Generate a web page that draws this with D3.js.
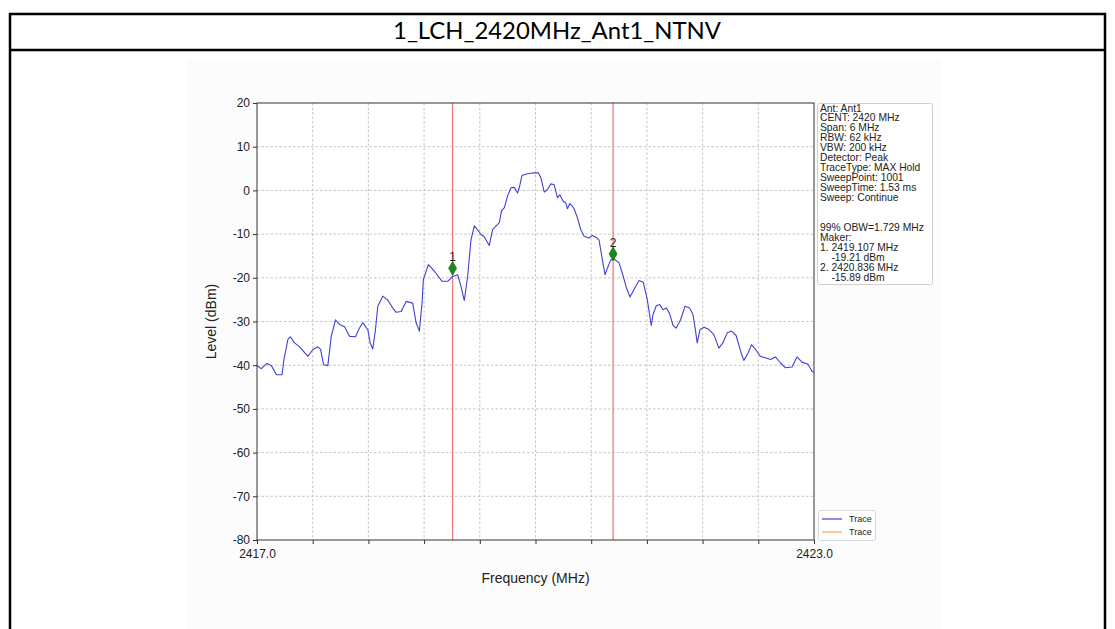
<!DOCTYPE html>
<html>
<head>
<meta charset="utf-8">
<script src="https://cdn.jsdelivr.net/npm/d3@7"></script>
<style>
    body { margin: 0; background: #fff; }
    svg { display: block; font-family: "Liberation Sans", Arial, sans-serif; }
</style>
</head>
<body>
<svg id="chart" width="1115" height="629"></svg>
<script>
    // title of the table cell
    var title = "1_LCH_2420MHz_Ant1_NTNV";

    // trace (MHz, dBm)
    var freq = [2417.000, 2417.047, 2417.108, 2417.155, 2417.209, 2417.269, 2417.290, 2417.333, 2417.359, 2417.405,
        2417.459, 2417.548, 2417.602, 2417.656, 2417.685, 2417.717, 2417.763, 2417.800, 2417.846, 2417.889,
        2417.943, 2417.997, 2418.061, 2418.104, 2418.140, 2418.194, 2418.219, 2418.247, 2418.276, 2418.301,
        2418.355, 2418.409, 2418.462, 2418.499, 2418.553, 2418.606, 2418.677, 2418.714, 2418.749, 2418.778,
        2418.792, 2418.846, 2418.911, 2418.994, 2419.054, 2419.108, 2419.161, 2419.198, 2419.233, 2419.269,
        2419.305, 2419.341, 2419.376, 2419.413, 2419.448, 2419.502, 2419.538, 2419.574, 2419.610, 2419.634,
        2419.663, 2419.699, 2419.735, 2419.771, 2419.806, 2419.825, 2419.854, 2419.914, 2419.968, 2420.032,
        2420.058, 2420.094, 2420.129, 2420.166, 2420.201, 2420.237, 2420.262, 2420.298, 2420.327, 2420.344,
        2420.370, 2420.391, 2420.416, 2420.452, 2420.488, 2420.524, 2420.577, 2420.613, 2420.649, 2420.685,
        2420.720, 2420.749, 2420.774, 2420.811, 2420.846, 2420.900, 2420.935, 2420.981, 2421.018, 2421.061,
        2421.115, 2421.161, 2421.204, 2421.247, 2421.266, 2421.301, 2421.338, 2421.373, 2421.409, 2421.445,
        2421.481, 2421.516, 2421.563, 2421.610, 2421.660, 2421.696, 2421.717, 2421.742, 2421.771, 2421.814,
        2421.860, 2421.922, 2421.975, 2422.018, 2422.065, 2422.112, 2422.161, 2422.209, 2422.244, 2422.290,
        2422.327, 2422.370, 2422.424, 2422.477, 2422.531, 2422.585, 2422.639, 2422.692, 2422.763, 2422.817,
        2422.871, 2422.935, 2422.978, 2423.000];
    var level = [-40.1, -40.8, -39.6, -40.1, -42.2, -42.2, -38.7, -34.1, -33.5, -34.9,
        -35.8, -38.0, -36.4, -35.8, -36.4, -39.9, -40.1, -33.4, -29.6, -30.7,
        -31.2, -33.4, -33.5, -31.5, -30.3, -31.9, -34.9, -36.3, -31.9, -26.5,
        -24.2, -25.1, -26.9, -27.9, -27.7, -25.4, -25.8, -30.3, -32.2, -25.8,
        -20.4, -17.0, -18.5, -20.8, -20.8, -19.7, -19.3, -22.0, -25.2, -19.7,
        -11.3, -8.1, -9.0, -10.1, -10.6, -12.6, -9.0, -8.2, -7.4, -4.7,
        -4.0, -1.3, 0.6, 0.7, -0.6, 0.6, 3.4, 3.8, 4.0, 4.0,
        2.9, -0.4, 0.2, 1.5, 1.3, -1.7, -1.0, -2.5, -2.9, -4.2,
        -3.0, -3.5, -4.2, -6.3, -9.0, -10.5, -10.9, -10.3, -10.7, -11.4,
        -15.8, -19.3, -17.8, -15.9, -15.7, -16.6, -18.9, -22.4, -24.4, -22.7,
        -20.6, -21.0, -25.0, -30.9, -28.4, -26.4, -26.1, -27.3, -26.9, -28.2,
        -30.9, -31.5, -29.6, -26.5, -26.9, -28.4, -31.1, -34.9, -31.9, -31.3,
        -31.7, -33.0, -36.1, -34.9, -32.6, -32.2, -33.2, -36.8, -38.9, -37.2,
        -35.3, -36.4, -38.0, -38.3, -38.7, -38.1, -39.5, -40.6, -40.4, -38.1,
        -39.3, -39.8, -41.4, -41.6];

    // markers
    var markerNames = ["1", "2"];
    var markerFreq = [2419.107, 2420.836];
    var markerLevel = [-19.21, -15.89];

    // axes
    var yTicks = [20, 10, 0, -10, -20, -30, -40, -50, -60, -70, -80];
    var xTicks = [2417.0, 2417.6, 2418.2, 2418.8, 2419.4, 2420.0, 2420.6, 2421.2, 2421.8, 2422.4, 2423.0];
    var xTickLabels = ["2417.0", "", "", "", "", "", "", "", "", "", "2423.0"];

    var infoLines = ["Ant: Ant1", "CENT: 2420 MHz", "Span: 6 MHz", "RBW: 62 kHz", "VBW: 200 kHz",
        "Detector: Peak", "TraceType: MAX Hold", "SweepPoint: 1001", "SweepTime: 1.53 ms",
        "Sweep: Continue", "", "", "99% OBW=1.729 MHz", "Maker:", "1. 2419.107 MHz",
        "    -19.21 dBm", "2. 2420.836 MHz", "    -15.89 dBm"];
    var legendNames = ["Trace", "Trace"];
    var legendColors = ["#4141d4", "#ff9f40"];

    var svg = d3.select("#chart");

    // word table cell borders
    svg.append("rect").attr("x", 186).attr("y", 58).attr("width", 756).attr("height", 580)
        .attr("fill", "#fcfcfc");
    svg.append("line").attr("x1", 9).attr("x2", 1106).attr("y1", 14).attr("y2", 14)
        .attr("stroke", "#000").attr("stroke-width", 2.5);
    svg.append("line").attr("x1", 9).attr("x2", 1106).attr("y1", 50).attr("y2", 50)
        .attr("stroke", "#000").attr("stroke-width", 2.5);
    svg.append("line").attr("x1", 10).attr("x2", 10).attr("y1", 13).attr("y2", 629)
        .attr("stroke", "#000").attr("stroke-width", 2.5);
    svg.append("line").attr("x1", 1105).attr("x2", 1105).attr("y1", 13).attr("y2", 629)
        .attr("stroke", "#000").attr("stroke-width", 2.5);

    var t = svg.append("text").attr("x", 557).attr("y", 39).attr("text-anchor", "middle")
        .style("font-family", "Lato, 'Open Sans', sans-serif").style("font-size", "20px")
        .attr("fill", "#000").text(title);
    // fit title to the width seen in the picture
    var tw = t.node().getComputedTextLength();
    t.style("font-size", (20 * 328 / tw).toFixed(2) + "px");

    // plot box (note: "top" is taken by window.top)
    var pLeft = 257, pRight = 814, pTop = 103, pBottom = 540;
    var x = d3.scaleLinear().domain([2417, 2423]).range([pLeft, pRight]);
    var y = d3.scaleLinear().domain([-80, 20]).range([pBottom, pTop]);

    svg.append("rect").attr("x", pLeft).attr("y", pTop).attr("width", pRight - pLeft).attr("height", pBottom - pTop)
        .attr("fill", "#fff");

    // grid
    var grid = svg.append("g").attr("stroke", "#b8b8b8").attr("stroke-width", 0.8).attr("stroke-dasharray", "2.5,2");
    grid.selectAll(".gx").data(xTicks.slice(1, -1)).enter().append("line")
        .attr("x1", d => x(d)).attr("x2", d => x(d)).attr("y1", pTop).attr("y2", pBottom);
    grid.selectAll(".gy").data(yTicks.slice(1, -1)).enter().append("line")
        .attr("x1", pLeft).attr("x2", pRight).attr("y1", d => y(d)).attr("y2", d => y(d));

    // marker lines
    svg.selectAll(".mline").data(markerFreq).enter().append("line")
        .attr("x1", d => x(d)).attr("x2", d => x(d)).attr("y1", pTop).attr("y2", pBottom)
        .attr("stroke", "#f27c7c").attr("stroke-width", 1.3);

    // trace
    var pts = freq.map((f, i) => [f, level[i]]);
    svg.append("path").datum(pts)
        .attr("d", d3.line().x(d => x(d[0])).y(d => y(d[1])))
        .attr("fill", "none").attr("stroke", legendColors[0]).attr("stroke-width", 1.1)
        .attr("stroke-linejoin", "round");

    // marker points
    svg.selectAll(".mk").data(markerFreq).enter().append("path")
        .attr("d", d3.symbol().type(d3.symbolDiamond).size(55))
        .attr("transform", (d, i) => "translate(" + x(d) + "," + (y(markerLevel[i]) - 6) + ")")
        .attr("fill", "#1a8a1a").attr("stroke", "#0b5e0b").attr("stroke-width", 0.6);
    svg.selectAll(".mt").data(markerFreq).enter().append("text")
        .attr("x", d => x(d)).attr("y", (d, i) => y(markerLevel[i]) - 13)
        .attr("text-anchor", "middle").style("font-size", "12px").attr("fill", "#222")
        .text((d, i) => markerNames[i]);

    // axes
    var yAxis = svg.append("g").attr("transform", "translate(" + pLeft + ",0)")
        .call(d3.axisLeft(y).tickValues(yTicks).tickSize(4).tickPadding(3).tickFormat(d => d));
    var xAxis = svg.append("g").attr("transform", "translate(0," + pBottom + ")")
        .call(d3.axisBottom(x).tickValues(xTicks).tickSize(4).tickPadding(5).tickFormat((d, i) => xTickLabels[i]));
    [yAxis, xAxis].forEach(function (g) {
        g.select(".domain").remove();
        g.selectAll("line").attr("stroke", "#333");
        g.selectAll("text").style("font-size", "12px").attr("fill", "#222").style("font-family", "'Liberation Sans', Arial, sans-serif");
    });
    svg.append("rect").attr("x", pLeft).attr("y", pTop).attr("width", pRight - pLeft).attr("height", pBottom - pTop)
        .attr("fill", "none").attr("stroke", "#333").attr("stroke-width", 1);

    svg.append("text").attr("transform", "translate(216," + ((pTop + pBottom) / 2) + ") rotate(-90)")
        .attr("text-anchor", "middle").style("font-size", "14px").attr("fill", "#222").text("Level (dBm)");
    svg.append("text").attr("x", (pLeft + pRight) / 2).attr("y", 583)
        .attr("text-anchor", "middle").style("font-size", "14px").attr("fill", "#222").text("Frequency (MHz)");

    // info box
    svg.append("rect").attr("x", 817.5).attr("y", 103.5).attr("width", 115).attr("height", 181).attr("rx", 2)
        .attr("fill", "#fff").attr("stroke", "#cfcfcf");
    svg.append("g").selectAll("text").data(infoLines).enter().append("text")
        .attr("x", 820).attr("y", (d, i) => 111.5 + i * 9.95)
        .style("font-size", "10.3px").attr("fill", "#222").attr("xml:space", "preserve")
        .text(d => d);

    // legend
    var lg = svg.append("g");
    lg.append("rect").attr("x", 818.5).attr("y", 510.5).attr("width", 57).attr("height", 30).attr("rx", 2)
        .attr("fill", "#fff").attr("stroke", "#d8d8d8");
    legendNames.forEach(function (n, i) {
        lg.append("line").attr("x1", 822).attr("x2", 842).attr("y1", 519 + i * 13).attr("y2", 519 + i * 13)
            .attr("stroke", legendColors[i]).attr("stroke-width", 1.2);
        lg.append("text").attr("x", 849).attr("y", 522 + i * 13).style("font-size", "9px")
            .attr("fill", "#222").text(n);
    });
</script>
</body>
</html>
